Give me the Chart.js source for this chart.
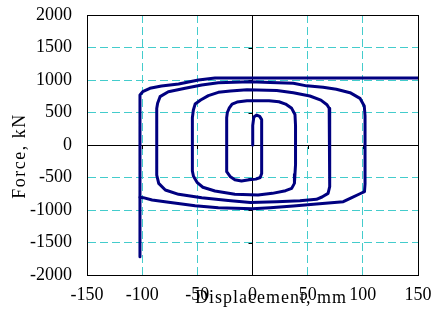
<!DOCTYPE html>
<html>
<head>
<meta charset="utf-8">
<script src="https://cdn.jsdelivr.net/npm/chart.js@4/dist/chart.umd.min.js"></script>
<style>
  html, body { margin: 0; padding: 0; background: #fff; }
  canvas { display: block; }
</style>
</head>
<body>
<canvas id="loopChart" width="438" height="326"></canvas>
<script>
// force-displacement loops (mm / kN)
const dispLoop = [
  0, 0.2, 1.2, 3.8, 6.5, 8.3, 8.3, 7, 3, -3, -10, -16, -20, -23.4,
  -23.4, -22.8, -21, -18.5, -14, -5, 15, 24, 30, 35.5, 38.5, 39,
  39, 38.5, 38, 35.5, 30, 18, 5, -16, -34, -45, -50, -53.5, -54.5,
  -54.5, -53.6, -52, -47, -40, -31, -20, -5, 22, 37, 52, 62, 67.5, 69.5, 70.2,
  70.2, 69.5, 68.5, 63, 58, 43, 22, -2, -22, -46, -67, -79, -85, -86.8,
  -86.8, -86, -83.8, -76.3, -61, -46, -31, -2, 16, 37, 49, 64, 76, 88.4, 97.4, 101.3, 102,
  102, 101.5, 97.4, 90, 82.3, 58, 37, 16, 0, -31, -52, -76, -91, -99, -102,
  -102, -99.5, -93, -82.5, -67, -49, -34, 150
]
const forceLoop = [
  0, 300, 430, 461, 440, 390, -440, -500, -525, -535, -555, -535, -490, -410,
  420, 500, 570, 630, 660, 680, 682, 665, 630, 564, 470, 300,
  -300, -450, -590, -667, -703, -744, -769, -759, -708, -650, -580, -480, -400,
  420, 538, 630, 692, 760, 810, 830, 850, 840, 805, 754, 690, 620, 564, 450,
  -500, -641, -744, -800, -836, -857, -872, -885, -855, -810, -759, -692, -590, -462,
  560, 641, 744, 820, 872, 923, 958, 974, 960, 949, 910, 887, 857, 805, 718, 600, 450,
  -600, -718, -750, -810, -872, -908, -938, -964, -980, -964, -933, -882, -846, -810, -805,
  769, 820, 872, 908, 938, 1000, 1030, 1030
]
// drop at the left end
const dispSpur = [-102, -102]
const forceSpur = [-805, -1720]

const xTicks = [-150, -100, -50, 0, 50, 100, 150]
const yTicks = [-2000, -1500, -1000, -500, 0, 500, 1000, 1500, 2000]

const navy = '#000080'
const gridCyan = '#44cccc'
const serif = '"Liberation Serif", "Times New Roman", serif'

function toPoints(xs, ys) {
  return xs.map((x, i) => ({x: x, y: ys[i]}))
}

function isSolid(v, ticks) {
  return v === 0 || v === ticks[0] || v === ticks[ticks.length - 1]
}

// small tick marks on the zero axes + axis titles
const axisExtras = {
  id: 'axisExtras',
  beforeDatasetsDraw(chart) {
    const {ctx, scales: {x, y}} = chart
    const x0 = x.getPixelForValue(0)
    const y0 = y.getPixelForValue(0)
    ctx.save()
    ctx.strokeStyle = '#000'
    ctx.lineWidth = 1
    ctx.beginPath()
    xTicks.forEach(v => {
      if (isSolid(v, xTicks)) return
      const px = Math.round(x.getPixelForValue(v)) + 0.5
      ctx.moveTo(px, y0)
      ctx.lineTo(px, y0 + 4)
    })
    yTicks.forEach(v => {
      if (isSolid(v, yTicks)) return
      const py = Math.round(y.getPixelForValue(v)) + 0.5
      ctx.moveTo(x0 - 4, py)
      ctx.lineTo(x0, py)
    })
    ctx.stroke()
    ctx.restore()
  },
  afterDraw(chart) {
    const {ctx} = chart
    ctx.save()
    ctx.fillStyle = '#000'
    ctx.font = '18px ' + serif
    ctx.textAlign = 'center'
    ctx.textBaseline = 'alphabetic'
    ctx.letterSpacing = '1px'
    ctx.fillText('Displacement, mm', 271, 303)
    ctx.translate(25, 156)
    ctx.rotate(-Math.PI / 2)
    ctx.letterSpacing = '1.5px'
    ctx.fillText('Force, kN', 0, 0)
    ctx.restore()
  }
}

const chart = new Chart(document.getElementById('loopChart').getContext('2d'), {
  type: 'scatter',
  data: {
    datasets: [
      {
        label: 'Hysteresis',
        data: toPoints(dispLoop, forceLoop),
        showLine: true,
        borderColor: navy,
        borderWidth: 3,
        borderJoinStyle: 'round',
        borderCapStyle: 'round',
        pointRadius: 0,
        tension: 0
      },
      {
        label: 'Drop',
        data: toPoints(dispSpur, forceSpur),
        showLine: true,
        borderColor: navy,
        borderWidth: 3,
        borderCapStyle: 'round',
        pointRadius: 0
      }
    ]
  },
  options: {
    responsive: false,
    animation: false,
    layout: {padding: {top: 15, right: 20, left: 0, bottom: 0}},
    plugins: {
      legend: {display: false},
      tooltip: {enabled: false}
    },
    scales: {
      x: {
        type: 'linear',
        min: xTicks[0],
        max: xTicks[xTicks.length - 1],
        afterBuildTicks: s => { s.ticks = xTicks.map(v => ({value: v})) },
        afterFit: s => { s.height = 51; s.paddingLeft = 0; s.paddingRight = 0 },
        grid: {
          drawTicks: false,
          lineWidth: 1,
          color: c => (c.tick && isSolid(c.tick.value, xTicks)) ? '#000' : gridCyan
        },
        border: {
          color: '#000',
          dash: c => (c.tick && !isSolid(c.tick.value, xTicks)) ? [8, 4] : []
        },
        ticks: {
          padding: 9,
          color: '#000',
          maxRotation: 0,
          callback: v => String(v),
          font: {family: serif, size: 18}
        }
      },
      y: {
        type: 'linear',
        min: yTicks[0],
        max: yTicks[yTicks.length - 1],
        afterBuildTicks: s => { s.ticks = yTicks.map(v => ({value: v})) },
        afterFit: s => { s.width = 87; s.paddingTop = 0; s.paddingBottom = 0 },
        grid: {
          drawTicks: false,
          lineWidth: 1,
          color: c => (c.tick && isSolid(c.tick.value, yTicks)) ? '#000' : gridCyan
        },
        border: {
          color: '#000',
          dash: c => (c.tick && !isSolid(c.tick.value, yTicks)) ? [8, 4] : []
        },
        ticks: {
          padding: 15,
          color: '#000',
          callback: v => String(v),
          font: {family: serif, size: 18}
        }
      }
    }
  },
  plugins: [axisExtras]
})
</script>
</body>
</html>
